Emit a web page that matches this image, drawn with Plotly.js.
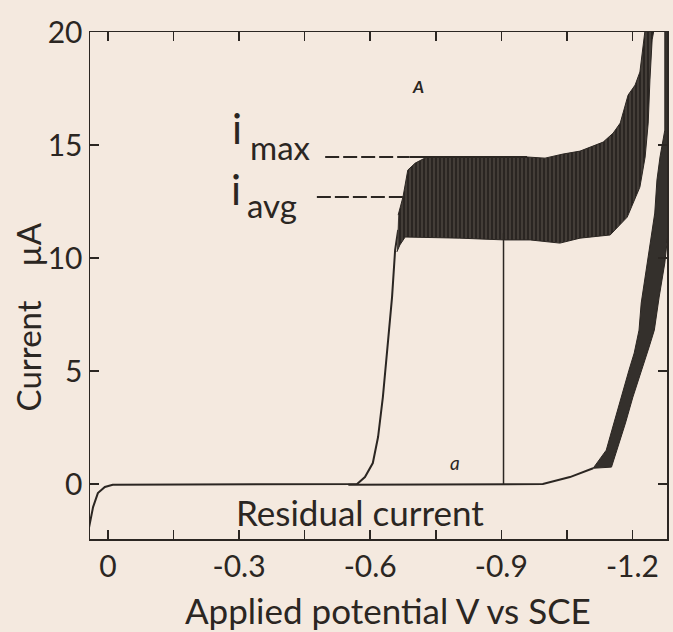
<!DOCTYPE html>
<html>
<head>
<meta charset="utf-8">
<script src="https://cdn.plot.ly/plotly-3.0.1.min.js"></script>
<style>html,body{margin:0;padding:0;background:#f3e7dc;}#chart{width:673px;height:632px;}</style>
</head>
<body>
<div id="chart"></div>
<script>
// ---- data (potential in V vs SCE, current in µA) ----
// curve A: residual part + rising wave (thin trace)
const waveV = [0.048, 0.041, 0.034, 0.023, 0.007, -0.011, -0.2, -0.4, -0.55, -0.570, -0.588, -0.606, -0.618, -0.629, -0.641, -0.650, -0.657, -0.664];
const waveI = [-2.39, -1.73, -1.02, -0.40, -0.13, -0.03, -0.03, -0.03, -0.03, 0.0, 0.31, 0.93, 2.08, 3.85, 6.37, 8.27, 10.35, 11.24];
// curve A: oscillating limiting-current band (upper / lower envelopes)
const plateauTopV = [-0.664, -0.675, -0.686, -0.703, -0.730, -0.959, -1.000, -1.041, -1.080, -1.119, -1.133, -1.156, -1.172, -1.190, -1.206, -1.217, -1.224, -1.232];
const plateauTopI = [11.90, 12.70, 13.89, 14.20, 14.47, 14.47, 14.42, 14.60, 14.73, 15.00, 15.13, 15.53, 15.97, 17.21, 17.65, 18.23, 19.42, 20.6];
const plateauBotV = [-0.661, -0.668, -0.680, -0.714, -0.805, -0.908, -0.966, -1.034, -1.080, -1.149, -1.188, -1.217, -1.229, -1.236, -1.240, -1.245, -1.254];
const plateauBotI = [10.27, 10.58, 10.93, 10.93, 10.88, 10.80, 10.80, 10.66, 10.88, 11.02, 11.81, 13.14, 14.47, 15.97, 17.88, 19.65, 20.6];
// curve a: residual current (thin part)
const residV = [-0.55, -0.80, -0.95, -0.995, -1.057, -1.110];
const residI = [-0.03, -0.03, -0.03, 0.0, 0.31, 0.70];
// curve a: oscillating rise (left / right edges)
const riseLeftV = [-1.110, -1.140, -1.153, -1.170, -1.192, -1.204, -1.215, -1.220, -1.231, -1.238, -1.246, -1.251, -1.256, -1.263, -1.274, -1.274];
const riseLeftI = [0.70, 1.50, 2.39, 3.58, 5.04, 5.80, 6.81, 8.01, 9.47, 10.35, 11.24, 11.99, 13.45, 14.47, 15.66, 20.6];
const riseRightV = [-1.110, -1.152, -1.170, -1.184, -1.201, -1.219, -1.238, -1.250, -1.261, -1.274, -1.282, -1.297, -1.297];
const riseRightI = [0.70, 0.75, 1.81, 2.70, 3.85, 4.91, 6.06, 6.81, 8.27, 9.78, 11.24, 11.24, 20.6];
// reference levels
const iMax = 14.47, iAvg = 12.70, markV = -0.905, markTopI = 11.1;
// ticks
const xTickVals = [0, -0.15, -0.3, -0.45, -0.6, -0.75, -0.9, -1.05, -1.2];
const xTickText = ['0', '', '-0.3', '', '-0.6', '', '-0.9', '', '-1.2'];
const yTickVals = [0, 5, 10, 15, 20];

const ink = '#2b2622';
const paper = '#f4e9df';
const FONT = 'Lato, "Open Sans", sans-serif';

const traces = [
  {x: waveV, y: waveI, mode: 'lines', line: {color: ink, width: 2}, hoverinfo: 'skip'},
  {x: residV, y: residI, mode: 'lines', line: {color: ink, width: 2}, hoverinfo: 'skip'},
  {x: plateauTopV.concat(plateauBotV.slice().reverse()), y: plateauTopI.concat(plateauBotI.slice().reverse()),
   mode: 'lines', fill: 'toself', line: {color: ink, width: 1}, fillcolor: '#3a3430',
   fillpattern: {shape: '|', size: 4, solidity: 0.75, fgcolor: '#2a2522', bgcolor: '#5c544e'}, hoverinfo: 'skip'},
  {x: riseLeftV.concat(riseRightV.slice().reverse()), y: riseLeftI.concat(riseRightI.slice().reverse()),
   mode: 'lines', fill: 'toself', line: {color: ink, width: 1}, fillcolor: '#34302c', hoverinfo: 'skip'}
];

const ann = (x, y, text, size, extra) => Object.assign({x, y, xref: 'x', yref: 'y', text, showarrow: false,
  xanchor: 'center', yanchor: 'middle', font: {family: FONT, size, color: ink}}, extra || {});

const layout = {
  width: 673, height: 632,
  margin: {l: 90, r: 6, t: 32, b: 93},
  paper_bgcolor: paper, plot_bgcolor: paper,
  showlegend: false,
  font: {family: FONT, color: ink},
  xaxis: {range: [0.041, -1.279], tickvals: xTickVals, ticktext: xTickText, ticks: 'inside', ticklen: 9, tickwidth: 1.5,
          tickcolor: ink, showline: true, linecolor: ink, linewidth: 1.5, mirror: 'ticks', showgrid: false, zeroline: false,
          tickfont: {family: FONT, size: 30, color: ink}, fixedrange: true},
  yaxis: {range: [-2.43, 20], tickvals: yTickVals, ticks: 'inside', ticklen: 9, tickwidth: 1.5,
          tickcolor: ink, showline: true, linecolor: ink, linewidth: 1.5, mirror: 'ticks', showgrid: false, zeroline: false,
          tickfont: {family: FONT, size: 30, color: ink}, fixedrange: true},
  shapes: [
    {type: 'line', xref: 'x', yref: 'y', x0: -0.497, x1: -0.69, y0: iMax, y1: iMax, line: {color: ink, width: 2, dash: '14px,4px'}},
    {type: 'line', xref: 'x', yref: 'y', x0: -0.69, x1: -0.959, y0: iMax, y1: iMax, line: {color: ink, width: 2}},
    {type: 'line', xref: 'x', yref: 'y', x0: -0.478, x1: -0.675, y0: iAvg, y1: iAvg, line: {color: ink, width: 2, dash: '14px,4px'}},
    {type: 'line', xref: 'x', yref: 'y', x0: markV, x1: markV, y0: 0, y1: markTopI, line: {color: ink, width: 1.5}}
  ],
  annotations: [
    ann(-0.296, 15.77, 'i', 42),
    ann(-0.394, 14.9, 'max', 33),
    ann(-0.292, 13.05, 'i', 42),
    ann(-0.375, 12.35, 'avg', 33),
    ann(-0.577, -1.25, 'Residual current', 35),
    ann(-0.709, 17.57, '<i><b>A</b></i>', 17),
    ann(-0.794, 0.95, '<i>a</i>', 19),
    {x: 0.517, y: -0.140, xref: 'paper', yref: 'paper', xanchor: 'center', yanchor: 'middle', text: 'Applied potential V vs SCE', showarrow: false,
     font: {family: FONT, size: 35, color: ink}},
    {x: -0.1075, y: 0.439, xref: 'paper', yref: 'paper', xanchor: 'center', yanchor: 'middle', text: 'Current\u00a0\u00a0\u00a0\u00a0\u00b5A', textangle: -90, showarrow: false,
     font: {family: FONT, size: 33, color: ink}}
  ]
};

Plotly.newPlot('chart', traces, layout, {displayModeBar: false, staticPlot: true});
</script>
</body>
</html>
